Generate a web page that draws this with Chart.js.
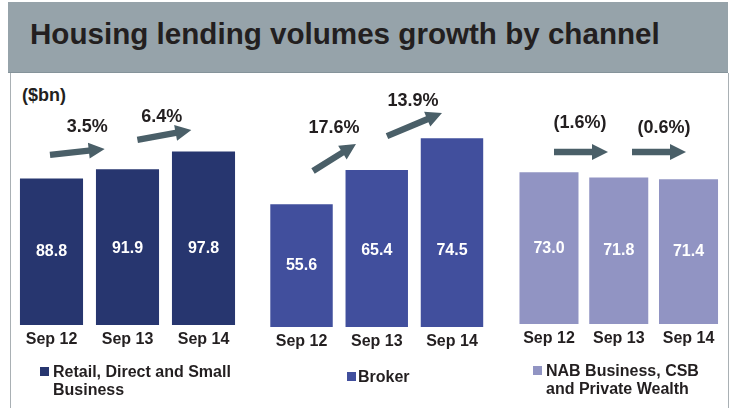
<!DOCTYPE html>
<html>
<head>
<meta charset="utf-8">
<script src="https://cdn.jsdelivr.net/npm/chart.js@4.4.1/dist/chart.umd.min.js"></script>
<style>
  body { margin: 0; width: 732px; height: 408px; background: #fff; position: relative; overflow: hidden;
         font-family: "Liberation Sans", Arial, sans-serif; color: #231f20; }
  #band { position: absolute; left: 8px; top: 2px; width: 720px; height: 70px; background: #96a3aa;
          border-bottom: 1px solid #85939a; }
  #title { position: absolute; left: 30px; top: 19px; font-size: 29.6px; line-height: 30px; font-weight: bold; color: #231f20; white-space: nowrap; }
  #panel { position: absolute; left: 10px; top: 73px; width: 717px; height: 340px;
           border-left: 1px solid #a9b0b4; border-right: 1px solid #a9b0b4; }
  canvas { position: absolute; left: 0; top: 0; }
  #unit { position: absolute; left: 22px; top: 85px; font-size: 18px; line-height: 20px; font-weight: bold; }
  .leg { position: absolute; font-size: 16px; line-height: 18px; font-weight: bold; white-space: nowrap; }
  .sq { position: absolute; width: 9px; height: 9px; }
</style>
</head>
<body>
<div id="band"></div>
<div id="title">Housing lending volumes growth by channel</div>
<div id="panel"></div>
<div id="unit">($bn)</div>
<canvas id="retail" width="732" height="408"></canvas>
<canvas id="broker" width="732" height="408"></canvas>
<canvas id="nab" width="732" height="408"></canvas>

<div class="sq" style="left:40px;top:367px;background:#27366f"></div>
<div class="leg" style="left:53px;top:363px">Retail, Direct and Small<br>Business</div>
<div class="sq" style="left:347px;top:372px;background:#414f9d"></div>
<div class="leg" style="left:358px;top:368px">Broker</div>
<div class="sq" style="left:533px;top:366px;background:#9194c3"></div>
<div class="leg" style="left:546px;top:362px">NAB Business, CSB<br>and Private Wealth</div>

<script>
// data
const periods = ['Sep 12', 'Sep 13', 'Sep 14'];
const retailValues = [88.8, 91.9, 97.8];
const brokerValues = [55.6, 65.4, 74.5];
const nabValues = [73.0, 71.8, 71.4];
const retailGrowth = ['3.5%', '6.4%'];
const brokerGrowth = ['17.6%', '13.9%'];
const nabGrowth = ['(1.6%)', '(0.6%)'];

const FONT = '"Liberation Sans", Arial, sans-serif';
const TEXT = '#231f20';
const ARROW = '#4a5f68';

function drawArrow(ctx, x0, y0, x1, y1) {
    let dx = x1 - x0, dy = y1 - y0;
    let len = Math.hypot(dx, dy);
    let ux = dx / len, uy = dy / len, nx = -uy, ny = ux;
    let hl = 16, hw = 8, sw = 3.2;
    let bx = x1 - ux * hl, by = y1 - uy * hl;
    ctx.beginPath();
    ctx.moveTo(x0 + nx * sw, y0 + ny * sw);
    ctx.lineTo(bx + nx * sw, by + ny * sw);
    ctx.lineTo(bx + nx * hw, by + ny * hw);
    ctx.lineTo(x1, y1);
    ctx.lineTo(bx - nx * hw, by - ny * hw);
    ctx.lineTo(bx - nx * sw, by - ny * sw);
    ctx.lineTo(x0 - nx * sw, y0 - ny * sw);
    ctx.closePath();
    ctx.fill();
}

// value labels inside bars, growth arrows and % labels
const growthPlugin = {
    id: 'growth',
    afterDatasetsDraw(chart, args, opts) {
        let ctx = chart.ctx;
        let xs = chart.scales.x, ys = chart.scales.y;
        let meta = chart.getDatasetMeta(0);
        let values = chart.data.datasets[0].data;
        ctx.save();
        ctx.textAlign = 'center';
        ctx.textBaseline = 'middle';
        ctx.font = 'bold 16px ' + FONT;
        ctx.fillStyle = '#ffffff';
        meta.data.forEach((bar, i) => {
            let base = Math.min(bar.base, ys.bottom);
            let y = Math.max((bar.y + base) / 2, base - 76);
            ctx.fillText(values[i].toFixed(1), bar.x, y);
        });
        ctx.fillStyle = ARROW;
        opts.arrows.forEach(a => {
            drawArrow(ctx, xs.getPixelForValue(a[0]), ys.getPixelForValue(a[1]),
                      xs.getPixelForValue(a[2]), ys.getPixelForValue(a[3]));
        });
        ctx.font = 'bold 18px ' + FONT;
        ctx.fillStyle = TEXT;
        opts.labels.forEach((t, i) => {
            let p = opts.labelAt[i];
            ctx.fillText(t, xs.getPixelForValue(p[0]), ys.getPixelForValue(p[1]));
        });
        ctx.restore();
    }
};

function makeChart(id, values, color, growth, box, ann) {
    let axisH = 30;
    let top = box.bottom - box.pxPerUnit * (box.max - box.min);
    let ctx = document.getElementById(id).getContext('2d');
    return new Chart(ctx, {
        type: 'bar',
        data: {
            labels: periods,
            datasets: [{
                data: values,
                base: box.min,
                backgroundColor: color,
                barPercentage: box.barPct,
                categoryPercentage: 1
            }]
        },
        options: {
            responsive: false,
            animation: false,
            devicePixelRatio: 1,
            layout: {
                padding: { left: box.left, right: 732 - box.right, top: top, bottom: 408 - box.bottom - axisH }
            },
            scales: {
                x: {
                    grid: { display: false, drawTicks: false },
                    border: { display: false },
                    ticks: { color: TEXT, padding: 5, maxRotation: 0, autoSkip: false,
                             font: { family: FONT, size: 16, weight: 'bold' } },
                    afterFit: s => { s.height = axisH; }
                },
                y: { display: false, min: box.min, max: box.max }
            },
            plugins: {
                legend: { display: false },
                tooltip: { enabled: false },
                growth: { labels: growth, arrows: ann.arrows, labelAt: ann.labelAt }
            }
        },
        plugins: [growthPlugin]
    });
}

makeChart('retail', retailValues, '#27366f', retailGrowth,
    { left: 13.5, right: 241.5, bottom: 325, min: 40, max: 100, pxPerUnit: 3, barPct: 0.83 },
    { arrows: [[-0.02, 96.7, 0.70, 98.7], [1.13, 101.7, 1.84, 105]],
      labelAt: [[0.47, 106], [1.45, 109.3]] });

makeChart('broker', brokerValues, '#414f9d', brokerGrowth,
    { left: 263.9, right: 489.6, bottom: 327, min: 20.4, max: 80, pxPerUnit: 3.49, barPct: 0.83 },
    { arrows: [[0.153, 65.1, 0.724, 72.8], [1.136, 75.1, 1.867, 81.7]],
      labelAt: [[0.432, 77.4], [1.482, 85.2]] });

makeChart('nab', nabValues, '#9194c3', nabGrowth,
    { left: 514.1, right: 723.4, bottom: 324, min: 38.3, max: 75, pxPerUnit: 4.375, barPct: 0.846 },
    { arrows: [[0.072, 77.6, 0.846, 77.6], [1.19, 77.6, 1.964, 77.6]],
      labelAt: [[0.444, 84.2], [1.649, 83.1]] });
</script>
</body>
</html>
